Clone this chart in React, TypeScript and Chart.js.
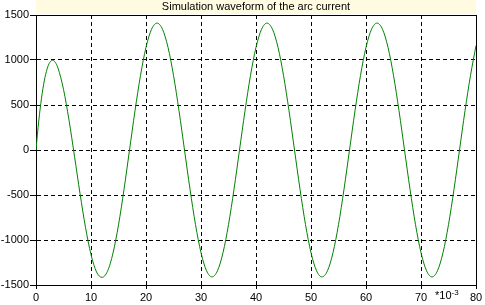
import React, { useEffect, useRef } from "react";
import { Chart, registerables } from "chart.js";

Chart.register(...registerables);

const chartTitle = "Simulation waveform of the arc current";
const xTickStep = 10;
const yTickStep = 500;
const xRange = [0, 80];
const yRange = [-1500, 1500];

const timeMs = [
  0, 0.25, 0.5, 1, 1.5, 2, 2.5, 3, 3.5, 4, 5, 6, 7, 8, 9, 10, 11, 12, 13, 14, 15, 16, 17,
  18, 19, 20, 21, 22, 23, 24, 25, 26, 27, 28, 29, 30, 31, 32, 33, 34, 35, 36, 37,
  38, 39, 40, 41, 42, 43, 44, 45, 46, 47, 48, 49, 50, 51, 52, 53, 54, 55, 56, 57,
  58, 59, 60, 61, 62, 63, 64, 65, 66, 67, 68, 69, 70, 71, 72, 73, 74, 75, 76, 77,
  78, 79, 80,
];

const currentA = [
  0, 170, 322, 576, 767, 897, 973, 997, 974, 910, 674, 332, -70, -483, -860, -1162, -1355, -1415, -1347, -1145, -832, -438, -1,
  436, 829, 1141, 1341, 1410, 1341, 1141, 829, 436, 0, -436, -829, -1141, -1341, -1410, -1341, -1141, -829, -436, 0,
  436, 829, 1141, 1341, 1410, 1341, 1141, 829, 436, 0, -436, -829, -1141, -1341, -1410, -1341, -1141, -829, -436, 0,
  436, 829, 1141, 1341, 1410, 1341, 1141, 829, 436, 0, -436, -829, -1141, -1341, -1410, -1341, -1141, -829, -436, 0,
  436, 829, 1160,
];

const FONT = '"Liberation Sans", Arial, sans-serif';

const decorPlugin = {
  id: "decor",
  afterDraw(chart: any) {
    const { ctx, chartArea } = chart;
    const { left, right, top, bottom } = chartArea;
    ctx.save();
    // title band
    ctx.fillStyle = "#fffbe1";
    ctx.fillRect(left, 0, right - left, top - 1);
    ctx.fillStyle = "#000";
    ctx.font = `11px ${FONT}`;
    ctx.textAlign = "center";
    ctx.textBaseline = "middle";
    ctx.fillText(chartTitle, (left + right) / 2, 7);
    // top and right border
    ctx.strokeStyle = "#000";
    ctx.lineWidth = 1;
    ctx.beginPath();
    ctx.moveTo(Math.round(left) + 0.5, Math.round(top) + 0.5);
    ctx.lineTo(Math.round(right) + 0.5, Math.round(top) + 0.5);
    ctx.lineTo(Math.round(right) + 0.5, Math.round(bottom) + 0.5);
    ctx.stroke();
    // exponent label
    ctx.textAlign = "left";
    ctx.textBaseline = "alphabetic";
    ctx.font = `11px ${FONT}`;
    const x0 = 435;
    ctx.fillText("*10", x0, 299);
    const w = ctx.measureText("*10").width;
    ctx.font = `8px ${FONT}`;
    ctx.fillText("-3", x0 + w, 295);
    ctx.restore();
  },
};

export default function App() {
  const ref = useRef<HTMLCanvasElement>(null);
  useEffect(() => {
    if (!ref.current) return;
    const points = timeMs.map((t, i) => ({ x: t, y: currentA[i] }));
    const chart = new Chart(ref.current, {
      type: "line",
      data: {
        datasets: [
          {
            data: points,
            borderColor: "#008000",
            borderWidth: 1,
            pointRadius: 0,
            cubicInterpolationMode: "monotone",
            fill: false,
          },
        ],
      },
      options: {
        responsive: false,
        animation: false,
        devicePixelRatio: 1,
        layout: { padding: { top: 15, right: 9, left: 0, bottom: 0 } },
        plugins: { legend: { display: false }, tooltip: { enabled: false }, title: { display: false } },
        scales: {
          x: {
            type: "linear",
            min: xRange[0],
            max: xRange[1],
            ticks: {
              stepSize: xTickStep,
              color: "#000",
              font: { family: FONT, size: 11 },
              padding: 2,
              maxRotation: 0,
              callback: (v: any) => String(v),
            },
            grid: { color: "#000", tickLength: 4, tickColor: "#000", tickBorderDash: [] },
            border: { display: true, color: "#000", dash: [4, 3] },
            afterFit: (s: any) => {
              s.height = 20;
            },
          },
          y: {
            type: "linear",
            min: yRange[0],
            max: yRange[1],
            ticks: {
              stepSize: yTickStep,
              color: "#000",
              font: { family: FONT, size: 11 },
              padding: 1,
              callback: (v: any) => String(v),
            },
            grid: { color: "#000", tickLength: 6, tickColor: "#000", tickBorderDash: [] },
            border: { display: true, color: "#000", dash: [4, 3] },
            afterFit: (s: any) => {
              s.width = 36;
            },
          },
        },
      } as any,
      plugins: [decorPlugin],
    });
    return () => chart.destroy();
  }, []);
  return (
    <div style={{ position: "absolute", left: 0, top: 0, width: 485, height: 305, background: "#fff" }}>
      <canvas ref={ref} width={485} height={305} style={{ display: "block" }} />
    </div>
  );
}
